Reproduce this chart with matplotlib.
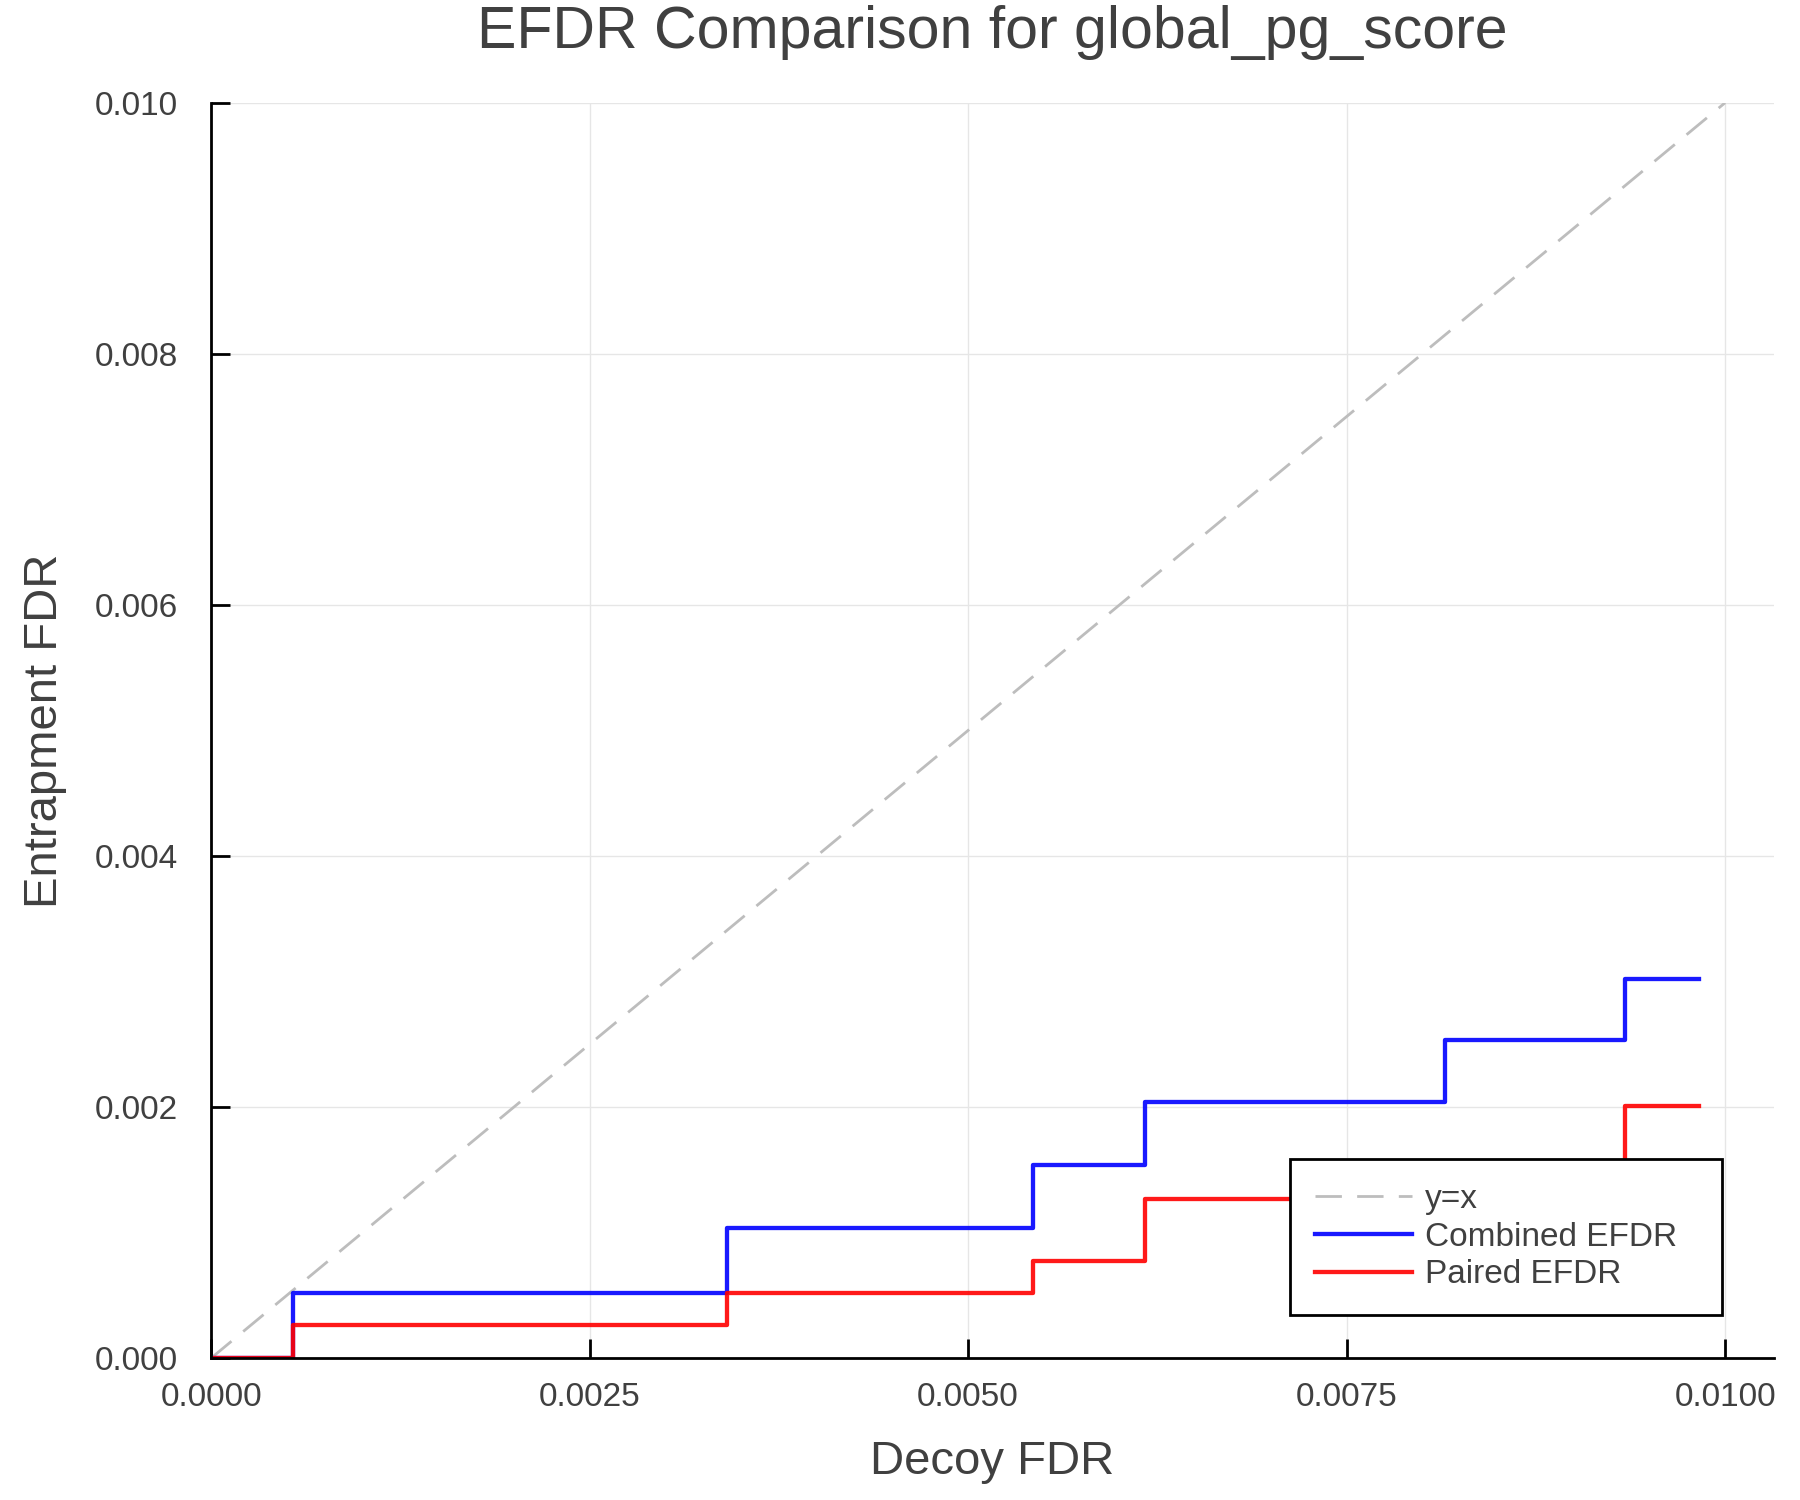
import matplotlib
matplotlib.use("Agg")
import matplotlib.pyplot as plt
from matplotlib.ticker import FormatStrFormatter

plt.rcParams['font.family'] = ['Liberation Sans', 'DejaVu Sans']

# step data
decoy_fdr = [0.0, 0.00054, 0.00341, 0.00543, 0.00617, 0.00815, 0.00934, 0.00983]
combined_efdr = [0.0, 0.00052, 0.00104, 0.00154, 0.00204, 0.00253, 0.00302, 0.00302]
paired_efdr = [0.0, 0.00026, 0.00052, 0.00077, 0.00127, 0.00152, 0.00201, 0.00201]
diag = [0.0, 0.01]

xticks = [0.0, 0.0025, 0.005, 0.0075, 0.01]
yticks = [0.0, 0.002, 0.004, 0.006, 0.008, 0.010]

text_col = '#404040'

fig = plt.figure(figsize=(18, 15), dpi=100)
ax = fig.add_axes([0.1173, 0.0946, 0.868, 0.8369])

ax.plot(diag, diag, color='#bdbdbd', linewidth=2, linestyle=(0, (9.5, 5.5)), label='y=x')
ax.plot(decoy_fdr, combined_efdr, drawstyle='steps-post', color='#0000ff', linewidth=3.1,
        alpha=0.9, label='Combined EFDR')
ax.plot(decoy_fdr, paired_efdr, drawstyle='steps-post', color='#ff0000', linewidth=3.1,
        alpha=0.9, label='Paired EFDR')

ax.set_xlim(0, 0.01032)
ax.set_ylim(0, 0.010)
ax.set_xticks(xticks)
ax.set_yticks(yticks)
ax.xaxis.set_major_formatter(FormatStrFormatter('%.4f'))
ax.yaxis.set_major_formatter(FormatStrFormatter('%.3f'))

ax.grid(True, color='#e6e6e6', linewidth=1)
ax.set_axisbelow(True)
for s in ['top', 'right']:
    ax.spines[s].set_visible(False)
for s in ['left', 'bottom']:
    ax.spines[s].set_linewidth(2)
ax.tick_params(direction='in', length=14, width=2, labelsize=24, labelcolor=text_col)
ax.tick_params(axis='y', pad=24)
ax.tick_params(axis='x', pad=17)

ax.set_xlabel('Decoy FDR', fontsize=34, color=text_col, labelpad=20)
ax.set_ylabel('Entrapment FDR', fontsize=34, color=text_col, labelpad=20)
fig.suptitle('EFDR Comparison for global_pg_score', fontsize=42.5, color=text_col,
             x=0.551, y=0.997, va='top')

leg = ax.legend(loc='lower left', bbox_to_anchor=(0.6905, 0.034, 0.2763, 0.1),
                mode='expand', borderaxespad=0, fontsize=24, frameon=True,
                fancybox=False, edgecolor='black', framealpha=1,
                handlelength=2.9, handletextpad=0.4, labelspacing=0.2,
                borderpad=0.75)
leg.get_frame().set_linewidth(2)
for t in leg.get_texts():
    t.set_color(text_col)

fig.savefig('out.png', dpi=100, facecolor='white')
